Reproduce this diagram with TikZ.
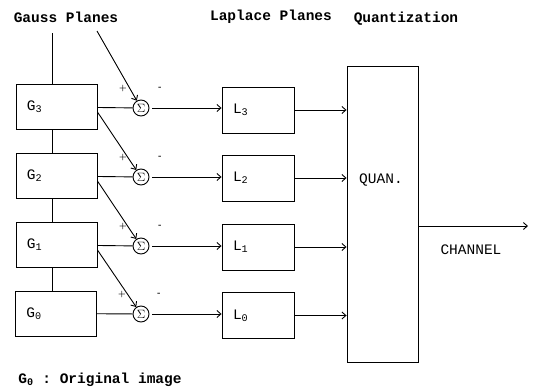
\documentclass[tikz,border=0pt]{standalone}
\usepackage{fontspec}
\setmonofont{Liberation Mono}
\usetikzlibrary{arrows.meta, positioning}

\begin{document}
\begin{tikzpicture}[x=1pt, y=-1pt, line width=0.9pt,
    every node/.style={font=\ttfamily\fontsize{14.5}{16}\selectfont},
    head/.style={font=\ttfamily\bfseries\fontsize{14.5}{16}\selectfont},
    gplane/.style={draw, minimum height=45, inner xsep=11, text width=59, align=left},
    lplane/.style={draw, minimum height=46, inner xsep=11, text width=50, align=left},
    sum/.style={draw, circle, inner sep=0, minimum size=16, font=\fontsize{12}{12}\selectfont},
    sign/.style={inner sep=0, font=\bfseries\fontsize{8}{8}\selectfont},
    arr/.style={-{Straight Barb[length=4pt, width=7pt]}}]
  \useasboundingbox (0,0) rectangle (539,389);

  \node[head] (GP) at (66,17) {Gauss Planes};
  \node[head] (LP) at (271,17) {Laplace Planes};
  \node[head] (QZ) at (406,19) {Quantization};

  \node[gplane] (G3) at (56.5,107) {G\textsubscript{3}};
  \node[gplane] (G2) at (56.5,176) {G\textsubscript{2}};
  \node[gplane] (G1) at (56.5,245) {G\textsubscript{1}};
  \node[gplane] (G0) at (56,313.5) {G\textsubscript{0}};

  \node[sum] (S3) at (141,108) {$\Sigma$};
  \node[sum] (S2) at (141,177) {$\Sigma$};
  \node[sum] (S1) at (141,246) {$\Sigma$};
  \node[sum] (S0) at (141,314) {$\Sigma$};

  \node[sign] (p3) at (123,88) {+};  \node[sign] (m3) at (160,88) {-};
  \node[sign] (p2) at (123,157) {+}; \node[sign] (m2) at (160,157) {-};
  \node[sign] (p1) at (123,226) {+}; \node[sign] (m1) at (160,226) {-};
  \node[sign] (p0) at (122,294) {+}; \node[sign] (m0) at (159,294) {-};

  \node[lplane] (L3) at (258,110) {L\textsubscript{3}};
  \node[lplane] (L2) at (258,178) {L\textsubscript{2}};
  \node[lplane] (L1) at (258,247) {L\textsubscript{1}};
  \node[lplane] (L0) at (258,315.5) {L\textsubscript{0}};

  \node[draw, minimum width=71, minimum height=296, inner sep=0] (Q) at (382.5,214) {};
  \node (qt) at (381,180) {QUAN.};
  \node (cht) at (471,250) {CHANNEL};

  \node[head] (note) at (100,380) {G\textsubscript{0} : Original image};

  % pyramid
  \coordinate (gtop) at (52.5,33);
  \coordinate (gp) at (97,31);
  \draw (gtop) -- ([xshift=-4]G3.north);
  \draw ([xshift=-4]G3.south) -- ([xshift=-4]G2.north);
  \draw ([xshift=-4]G2.south) -- ([xshift=-4]G1.north);
  \draw ([xshift=-4]G1.south) -- ([xshift=-3.5]G0.north);

  % differences
  \draw (G3) -- (S3);
  \draw (G2) -- (S2);
  \draw (G1) -- (S1);
  \draw (G0) -- (S0);
  \draw[arr] (gp) -- (S3);
  \draw[arr] ([yshift=-5]G3.east) -- (S2);
  \draw[arr] ([yshift=-5]G2.east) -- (S1);
  \draw[arr] ([yshift=-5]G1.east) -- (S0);

  \draw[arr, shorten <=3pt] (S3) -- (S3 -| L3.west);
  \draw[arr, shorten <=3pt] (S2) -- (S2 -| L2.west);
  \draw[arr, shorten <=3pt] (S1) -- (S1 -| L1.west);
  \draw[arr, shorten <=3pt] (S0) -- (S0 -| L0.west);

  % quantizer
  \draw[arr] (L3.east) -- (L3.east -| Q.west);
  \draw[arr] (L2.east) -- (L2.east -| Q.west);
  \draw[arr] (L1.east) -- (L1.east -| Q.west);
  \draw[arr] (L0.east) -- (L0.east -| Q.west);

  \coordinate (ch) at (528,226);
  \draw[arr] (Q.east |- ch) -- (ch);
\end{tikzpicture}
\end{document}
